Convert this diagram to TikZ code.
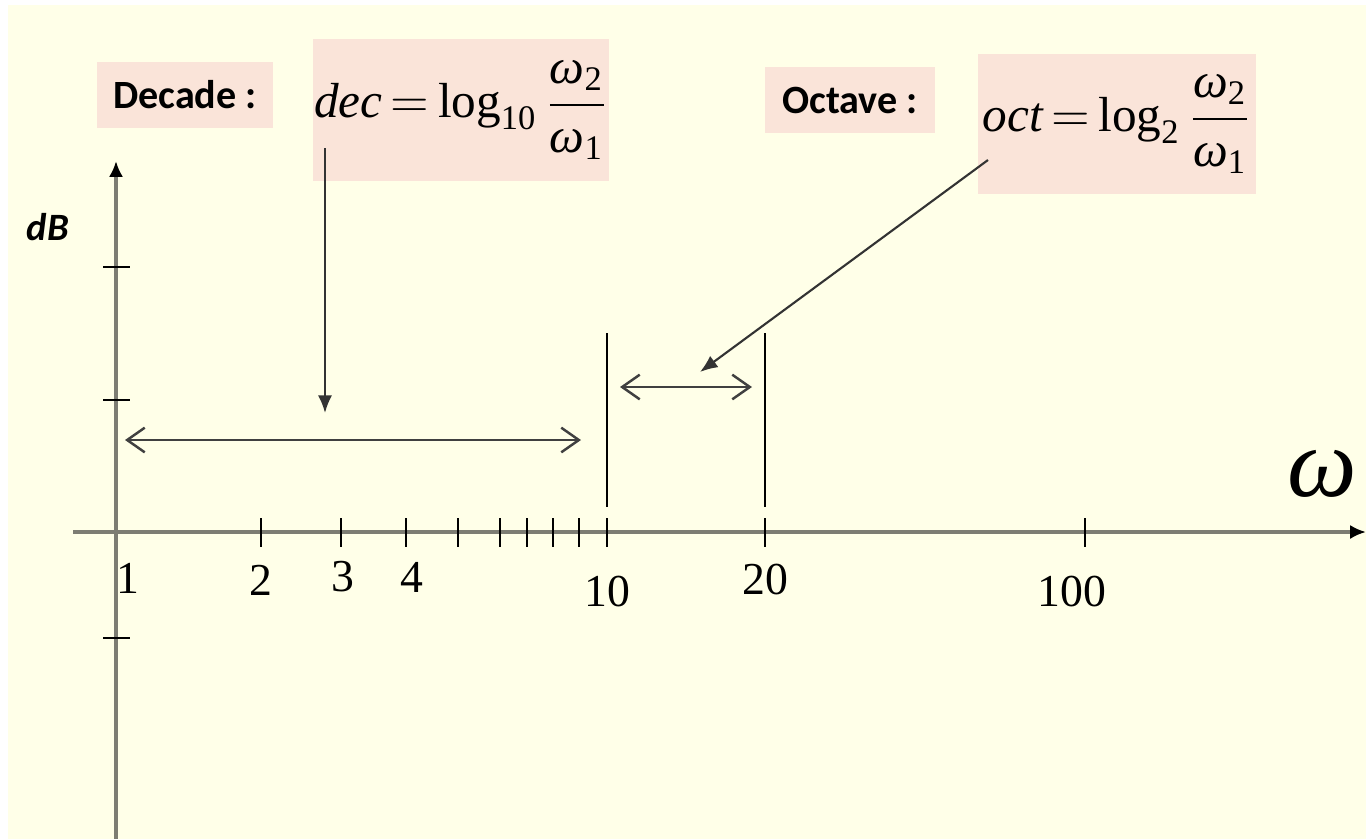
\documentclass[tikz,border=0pt]{standalone}
\usepackage{fontspec}
\setmainfont{Liberation Serif}
\newfontfamily\calibri{Carlito}
\usetikzlibrary{arrows.meta}
\definecolor{bgyellow}{RGB}{255,255,232}
\definecolor{boxpink}{RGB}{250,228,217}
\definecolor{axisgray}{RGB}{125,125,115}
\newcommand{\om}{\textit{ω}}
\newcommand{\rsub}[1]{_{\mathrm{#1}}}
\tikzset{
  pinkbox/.style={fill=boxpink,inner sep=0pt},
  lbltext/.style={font=\calibri\bfseries\fontsize{11.4}{13}\selectfont},
  ticklbl/.style={font=\fontsize{13}{15}\selectfont,inner sep=0pt},
  formula/.style={font=\fontsize{14}{16}\selectfont},
  spanarrow/.style={{Straight Barb[length=5pt,width=7pt]}-{Straight Barb[length=5pt,width=7pt]},line width=0.7pt,black!75},
  pointarrow/.style={-{Latex[length=5pt,width=4pt]},line width=0.6pt,black!80}
}
\begin{document}
\begin{tikzpicture}[x=0.01cm,y=-0.01cm]
            \useasboundingbox (0,0) rectangle (1366,839);
            \fill[bgyellow] (8,5) rectangle (1366,839);
            % axes
            \draw[axisgray,line width=1.1pt,-{Latex[length=4.5pt,width=4pt,color=black]}] (116,839) -- (116,161);
            \draw[axisgray,line width=1.1pt,-{Latex[length=4.5pt,width=4pt,color=black]}] (73,532) -- (1366,532);
            \node[font=\calibri\bfseries\itshape\fontsize{11}{12}\selectfont] (dB) at (48,227) {dB};
            \node[font=\fontsize{28}{30}\selectfont] (w) at (1322,474) {\om};
            \foreach \y in {267,400,638}
                \draw[line width=0.55pt] (103,\y) -- (130,\y);
            \foreach \x in {261,341,406,458,500,527,553,579,607,765,1085}
                \draw[line width=0.55pt] (\x,518) -- (\x,547);
            \node[ticklbl] (t1) at (128,578) {1};
            \node[ticklbl] (t2) at (261,580) {2};
            \node[ticklbl] (t3) at (343,577) {3};
            \node[ticklbl] (t4) at (412,577) {4};
            \node[ticklbl] (t10) at (607,592) {10};
            \node[ticklbl] (t20) at (765,580) {20};
            \node[ticklbl] (t100) at (1072,592) {100};
            % labels and formulas
            \node[pinkbox,lbltext,minimum width=1.76cm,minimum height=0.66cm] (decLbl) at (185,95) {Decade :};
            \node[pinkbox,formula,minimum width=2.96cm,minimum height=1.41cm] (decBox) at (461,110) {$\thickmuskip=3mu\relax\displaystyle \mathit{dec}=\log\rsub{10}\frac{\om\rsub{2}}{\om\rsub{1}}$};
            \node[pinkbox,lbltext,minimum width=1.70cm,minimum height=0.65cm] (octLbl) at (850,100) {Octave :};
            \node[pinkbox,formula,minimum width=2.78cm,minimum height=1.39cm] (octBox) at (1117,124) {$\thickmuskip=3mu\relax\displaystyle \mathit{oct}=\log\rsub{2}\frac{\om\rsub{2}}{\om\rsub{1}}$};
            % spans
            \coordinate (dL) at (125,440);
            \coordinate (dR) at (581,440);
            \coordinate (oL) at (620,387);
            \coordinate (oR) at (752,387);
            \draw[line width=0.6pt] (607,333) -- (607,507);
            \draw[line width=0.6pt] (765,333) -- (765,507);
            \draw[spanarrow] (dL) -- (dR);
            \draw[spanarrow] (oL) -- (oR);
            % pointers
            \coordinate (decTail) at (325,148);
            \coordinate (decHead) at (325,413);
            \coordinate (octTail) at (988,160);
            \coordinate (octHead) at (700,372);
            \draw[pointarrow] (decTail) -- (decHead);
            \draw[pointarrow] (octTail) -- (octHead);
        \end{tikzpicture}
\end{document}
